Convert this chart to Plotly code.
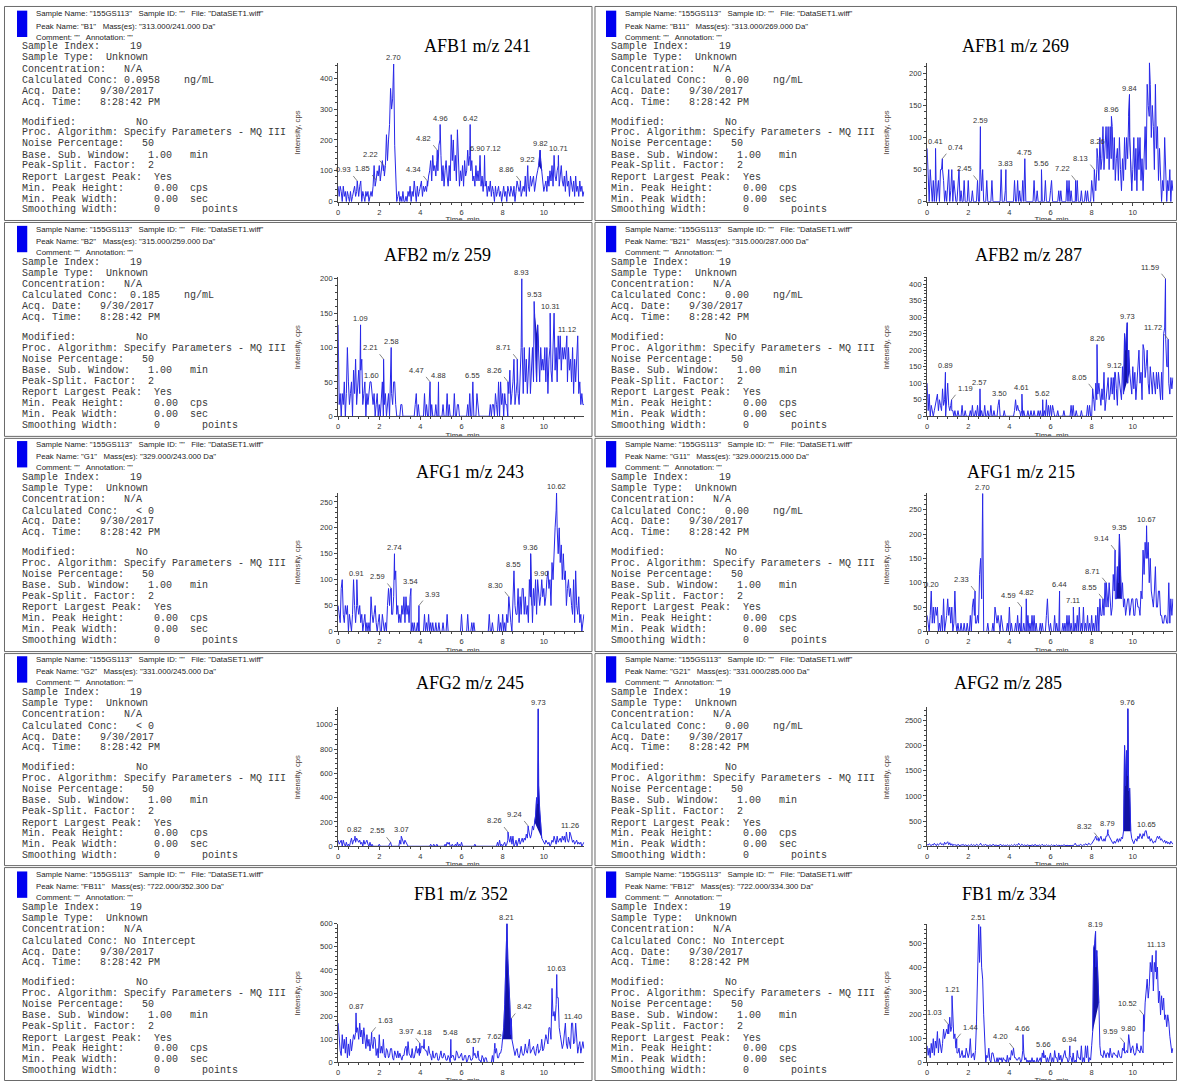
import plotly.graph_objects as go

W, H = 1178, 1086

# Chromatograms are sampled every 0.05 min over 0 - 11.95 min
times = [round(i * 0.05, 2) for i in range(240)]

# ---------------- AFB1 m/z 241 (B1) ----------------
afb1_241 = [
    50, 17, 50, 33, 0, 50, 17, 33, 0, 33, 17, 0, 33, 0, 17, 33, 50, 17, 33, 50,
    17, 50, 67, 0, 33, 17, 0, 33, 17, 33, 0, 17, 33, 17, 50, 117, 50, 70, 100, 83,
    117, 67, 100, 133, 100, 83, 117, 217, 133, 200, 250, 367, 300, 333, 446, 183, 50, 0, 17, 33,
    0, 17, 0, 33, 0, 0, 17, 0, 33, 17, 50, 0, 33, 17, 67, 33, 0, 50, 17, 33,
    50, 67, 17, 50, 33, 50, 33, 50, 83, 100, 133, 67, 150, 100, 117, 83, 133, 100, 183, 200,
    150, 67, 117, 50, 100, 133, 83, 50, 117, 67, 217, 133, 200, 100, 150, 67, 233, 117, 50, 100,
    67, 117, 50, 133, 83, 100, 167, 117, 150, 100, 133, 67, 83, 50, 117, 67, 100, 67, 150, 50,
    83, 33, 83, 50, 67, 17, 50, 33, 67, 17, 50, 33, 0, 50, 17, 33, 50, 17, 33, 0,
    33, 50, 17, 33, 0, 50, 33, 17, 50, 33, 17, 50, 0, 33, 67, 50, 33, 50, 17, 33,
    50, 33, 83, 17, 67, 50, 33, 83, 50, 67, 83, 33, 67, 83, 100, 117, 150, 133, 100, 83,
    33, 50, 67, 33, 83, 50, 100, 67, 117, 50, 150, 83, 67, 100, 117, 50, 83, 117, 67, 50,
    83, 33, 100, 50, 67, 17, 83, 50, 33, 67, 17, 83, 33, 50, 17, 67, 33, 50, 17, 33,
]
afb1_241_pk_t = [0.93, 1.85, 2.22, 2.70, 4.34, 4.82, 4.96, 6.42, 6.90, 7.12, 8.86, 9.22, 9.82, 10.71]
afb1_241_pk_h = [67, 70, 117, 446, 67, 167, 250, 250, 150, 150, 67, 117, 167, 150]
afb1_241_side = ['L', 'L', 'L', '', 'L', 'L', '', '', '<', '>', 'L', '', '', '']

# ---------------- AFB1 m/z 269 (B11) ----------------
afb1_269 = [
    83, 33, 0, 50, 17, 0, 33, 0, 33, 0, 17, 33, 0, 50, 50, 50, 33, 0, 17, 0,
    33, 50, 0, 17, 50, 0, 33, 17, 0, 0, 33, 50, 0, 17, 0, 0, 33, 0, 0, 0,
    33, 0, 0, 0, 17, 0, 0, 0, 0, 0, 0, 0, 50, 17, 50, 0, 0, 0, 33, 0,
    0, 0, 0, 33, 0, 0, 0, 0, 0, 0, 0, 0, 50, 0, 0, 0, 17, 0, 0, 0,
    0, 0, 0, 0, 0, 33, 0, 0, 33, 0, 17, 0, 0, 33, 0, 0, 0, 0, 0, 0,
    0, 0, 0, 0, 33, 0, 0, 17, 0, 0, 0, 0, 0, 0, 0, 33, 0, 0, 0, 0,
    17, 33, 0, 0, 0, 0, 0, 0, 17, 0, 17, 0, 0, 0, 0, 0, 33, 0, 33, 0,
    17, 0, 0, 0, 0, 0, 33, 0, 0, 0, 17, 0, 0, 0, 17, 0, 17, 0, 0, 0,
    33, 17, 0, 33, 17, 50, 67, 33, 100, 50, 67, 117, 50, 100, 117, 67, 117, 50, 117, 67,
    117, 50, 100, 33, 67, 83, 33, 100, 50, 17, 67, 33, 100, 50, 100, 67, 133, 100, 50, 17,
    50, 100, 33, 83, 17, 100, 50, 100, 33, 67, 17, 83, 117, 50, 183, 150, 133, 183, 100, 150,
    117, 50, 183, 83, 117, 33, 83, 50, 0, 33, 17, 100, 50, 0, 33, 17, 50, 0, 33, 17,
]
afb1_269_pk_t = [0.41, 0.74, 2.45, 2.59, 3.83, 4.75, 5.56, 7.22, 8.13, 8.26, 8.96, 9.84, 10.81]
afb1_269_pk_h = [83, 67, 33, 117, 50, 67, 50, 33, 50, 83, 133, 167, 217]
afb1_269_side = ['', 'R', 'L', '', '', '', '', 'L', 'L', '', '', '', '']

# ---------------- AFB2 m/z 259 (B2) ----------------
afb2_259 = [
    133, 17, 33, 0, 33, 17, 50, 0, 33, 100, 50, 17, 33, 50, 0, 67, 33, 83, 17, 50,
    67, 33, 67, 83, 17, 33, 50, 0, 33, 17, 33, 50, 0, 33, 17, 33, 0, 17, 33, 0,
    17, 0, 33, 50, 0, 17, 33, 0, 17, 33, 0, 50, 33, 17, 50, 50, 17, 0, 0, 0,
    0, 17, 17, 0, 0, 0, 0, 0, 0, 0, 0, 0, 0, 0, 0, 17, 33, 0, 17, 0,
    0, 0, 0, 0, 33, 0, 17, 0, 0, 33, 0, 17, 0, 0, 0, 17, 0, 0, 0, 0,
    0, 0, 17, 0, 0, 0, 33, 0, 17, 0, 0, 0, 0, 33, 0, 0, 17, 17, 0, 0,
    0, 0, 0, 0, 0, 0, 17, 0, 33, 0, 0, 17, 0, 0, 0, 33, 17, 0, 0, 0,
    0, 0, 0, 0, 0, 0, 0, 0, 17, 0, 17, 17, 0, 33, 17, 0, 50, 0, 50, 17,
    33, 0, 33, 17, 17, 0, 33, 67, 17, 33, 50, 83, 17, 33, 50, 33, 17, 50, 100, 100,
    33, 100, 50, 83, 33, 67, 100, 33, 83, 100, 50, 150, 100, 50, 133, 100, 50, 100, 67, 83,
    67, 100, 50, 100, 33, 83, 100, 67, 50, 100, 150, 67, 100, 50, 117, 83, 117, 67, 100, 83,
    100, 83, 117, 50, 100, 67, 83, 50, 100, 33, 83, 50, 100, 117, 33, 50, 17, 33, 17, 17,
]
afb2_259_pk_t = [1.09, 1.60, 2.21, 2.58, 4.47, 4.88, 6.55, 8.26, 8.71, 8.93, 9.53, 10.31, 11.12]
afb2_259_pk_h = [133, 50, 83, 100, 50, 50, 50, 50, 83, 200, 167, 150, 117]
afb2_259_side = ['', '', 'L', '', 'L', '', '', 'L', 'L', '', '', '', '']

# ---------------- AFB2 m/z 287 (B21) ----------------
afb2_287 = [
    100, 17, 67, 0, 33, 17, 0, 17, 33, 50, 67, 17, 50, 33, 17, 83, 33, 50, 0, 50,
    100, 33, 17, 33, 17, 17, 0, 17, 0, 0, 17, 0, 0, 0, 33, 0, 0, 17, 0, 0,
    0, 0, 17, 0, 33, 0, 0, 17, 0, 33, 0, 0, 0, 17, 0, 0, 33, 0, 0, 17,
    0, 0, 33, 0, 0, 17, 0, 0, 0, 33, 0, 0, 0, 0, 0, 17, 0, 0, 0, 0,
    0, 0, 0, 0, 0, 17, 50, 17, 33, 17, 17, 0, 17, 0, 17, 0, 0, 0, 17, 0,
    0, 17, 0, 0, 17, 0, 0, 0, 17, 0, 17, 0, 0, 0, 17, 0, 50, 0, 33, 0,
    33, 0, 33, 17, 0, 0, 0, 17, 0, 0, 0, 0, 0, 17, 0, 0, 0, 0, 0, 0,
    33, 0, 33, 0, 0, 17, 0, 0, 0, 0, 17, 0, 0, 0, 0, 0, 33, 0, 33, 0,
    0, 83, 50, 17, 100, 50, 67, 100, 50, 33, 83, 50, 133, 17, 50, 83, 117, 50, 67, 117,
    67, 117, 50, 133, 83, 33, 133, 100, 67, 50, 150, 67, 250, 200, 250, 100, 200, 133, 100, 67,
    150, 83, 133, 50, 100, 167, 200, 100, 133, 50, 217, 200, 117, 150, 200, 100, 67, 150, 117, 67,
    133, 100, 67, 133, 83, 133, 100, 50, 133, 50, 250, 267, 233, 150, 150, 100, 67, 117, 83, 117,
]
afb2_287_pk_t = [0.89, 1.19, 2.57, 3.50, 4.61, 5.62, 8.05, 8.26, 9.12, 9.73, 11.59, 11.72]
afb2_287_pk_h = [133, 50, 83, 50, 67, 50, 83, 217, 133, 283, 416, 233]
afb2_287_side = ['', 'R', '', '', '', '', 'L', '', '', '', 'L', 'L']

# ---------------- AFG1 m/z 243 (G1) ----------------
afg1_243 = [
    50, 33, 17, 83, 100, 33, 17, 50, 33, 50, 0, 33, 17, 0, 33, 100, 50, 17, 50, 50,
    33, 50, 17, 33, 0, 17, 33, 0, 17, 0, 17, 0, 67, 33, 17, 33, 50, 17, 0, 17,
    33, 0, 0, 33, 17, 0, 17, 0, 50, 83, 50, 83, 33, 33, 67, 100, 117, 33, 50, 17,
    33, 17, 50, 33, 67, 17, 67, 33, 50, 17, 67, 0, 17, 0, 17, 0, 0, 17, 0, 0,
    0, 0, 0, 0, 33, 0, 17, 0, 33, 0, 17, 0, 17, 0, 0, 17, 0, 0, 17, 0,
    0, 0, 17, 0, 0, 0, 33, 0, 0, 0, 0, 0, 0, 0, 0, 0, 0, 0, 0, 0,
    33, 0, 0, 0, 0, 0, 33, 0, 0, 0, 17, 0, 17, 0, 0, 0, 0, 0, 0, 0,
    0, 0, 0, 0, 0, 0, 0, 33, 0, 0, 17, 0, 0, 0, 0, 0, 33, 0, 17, 0,
    33, 0, 17, 0, 33, 17, 33, 33, 17, 0, 50, 117, 50, 33, 33, 83, 17, 67, 33, 83,
    83, 33, 67, 33, 50, 17, 100, 67, 50, 17, 83, 50, 100, 33, 100, 67, 50, 67, 100, 67,
    83, 50, 67, 100, 117, 83, 100, 50, 133, 100, 167, 200, 233, 200, 150, 200, 133, 167, 100, 150,
    100, 117, 50, 83, 100, 67, 83, 50, 33, 100, 17, 117, 50, 33, 67, 17, 33, 0, 17, 33,
]
afg1_243_pk_t = [0.91, 2.59, 2.74, 3.54, 3.93, 8.30, 8.55, 9.36, 9.90, 10.62]
afg1_243_pk_h = [100, 83, 150, 83, 50, 67, 117, 150, 100, 267]
afg1_243_side = ['', 'L', '', '', 'R', 'L', '', '', '', '']

# ---------------- AFG1 m/z 215 (G11) ----------------
afg1_215 = [
    33, 17, 0, 33, 83, 17, 50, 17, 50, 33, 50, 0, 17, 0, 33, 0, 67, 0, 17, 33,
    67, 33, 50, 17, 50, 0, 17, 83, 17, 0, 17, 0, 0, 17, 0, 0, 17, 0, 0, 17,
    0, 0, 33, 0, 50, 67, 33, 17, 17, 33, 17, 117, 150, 67, 283, 0, 0, 0, 0, 17,
    0, 0, 0, 0, 17, 0, 50, 33, 17, 33, 17, 0, 33, 17, 0, 0, 0, 0, 17, 0,
    50, 0, 17, 0, 0, 0, 17, 0, 33, 0, 17, 0, 0, 0, 17, 0, 0, 0, 33, 0,
    17, 0, 33, 0, 33, 0, 17, 0, 0, 0, 17, 0, 17, 0, 0, 0, 33, 67, 17, 0,
    17, 0, 0, 0, 33, 0, 17, 0, 0, 0, 0, 0, 17, 0, 17, 0, 33, 0, 33, 0,
    17, 0, 0, 0, 17, 0, 33, 0, 50, 0, 17, 0, 50, 0, 17, 0, 33, 0, 17, 0,
    33, 0, 17, 0, 33, 0, 50, 0, 67, 33, 33, 67, 33, 100, 50, 83, 50, 100, 67, 33,
    50, 117, 83, 67, 67, 133, 100, 200, 117, 67, 100, 50, 67, 33, 50, 67, 67, 33, 50, 67,
    67, 33, 33, 67, 67, 50, 50, 33, 83, 67, 167, 117, 183, 150, 150, 183, 100, 150, 83, 67,
    50, 83, 133, 50, 50, 83, 83, 33, 33, 17, 17, 33, 33, 17, 17, 100, 17, 67, 33, 67,
]
afg1_215_pk_t = [0.20, 2.33, 2.70, 4.59, 4.82, 6.44, 7.11, 8.55, 8.71, 9.14, 9.35, 10.67]
afg1_215_pk_h = [83, 83, 283, 50, 67, 83, 50, 67, 100, 167, 200, 217]
afg1_215_side = ['', 'L', '', 'L', '', '', '', 'L', 'L', 'L', '', '']

# ---------------- AFG2 m/z 245 (G2) ----------------
afg2_245 = [
    50, 17, 33, 50, 0, 50, 17, 0, 33, 0, 17, 0, 33, 67, 17, 50, 50, 33, 67, 50,
    33, 50, 17, 33, 0, 50, 17, 33, 50, 17, 0, 33, 0, 17, 0, 0, 0, 0, 0, 0,
    17, 0, 0, 0, 0, 0, 0, 0, 0, 0, 17, 0, 0, 0, 0, 0, 0, 0, 0, 0,
    50, 17, 67, 33, 17, 50, 33, 17, 0, 0, 0, 0, 0, 0, 0, 0, 0, 0, 0, 0,
    0, 0, 0, 0, 0, 0, 0, 0, 0, 0, 17, 0, 0, 17, 0, 0, 17, 0, 0, 0,
    0, 0, 0, 0, 17, 0, 33, 17, 33, 0, 0, 17, 0, 0, 17, 0, 33, 0, 17, 0,
    33, 0, 0, 0, 0, 0, 0, 0, 0, 0, 0, 0, 0, 17, 0, 0, 0, 0, 0, 0,
    0, 0, 0, 0, 0, 0, 0, 0, 0, 0, 0, 0, 0, 0, 0, 33, 0, 50, 0, 17,
    0, 17, 33, 0, 17, 50, 67, 33, 83, 17, 83, 0, 17, 50, 0, 33, 67, 17, 50, 67,
    33, 67, 50, 100, 67, 150, 100, 67, 100, 167, 133, 200, 250, 400, 350, 500, 300, 200, 67, 50,
    33, 17, 50, 33, 17, 33, 0, 17, 50, 33, 83, 50, 17, 83, 33, 50, 67, 33, 83, 50,
    83, 33, 117, 50, 33, 67, 100, 50, 33, 50, 17, 33, 50, 17, 33, 17, 33, 0, 17, 33,
]
afg2_245_pk_t = [0.82, 2.55, 3.07, 8.26, 9.24, 9.73, 11.26]
afg2_245_pk_h = [83, 33, 83, 117, 167, 1130, 117]
afg2_245_side = ['', 'L', '', 'L', 'L', '', '']

# ---------------- AFG2 m/z 285 (G21) ----------------
afg2_285 = [
    40, 20, 50, 30, 10, 40, 20, 60, 30, 10, 50, 20, 40, 70, 30, 50, 20, 80, 40, 60,
    90, 30, 70, 20, 50, 10, 40, 20, 30, 10, 40, 20, 10, 30, 20, 40, 10, 30, 20, 10,
    30, 10, 20, 40, 10, 30, 20, 10, 40, 20, 10, 30, 60, 20, 10, 30, 20, 40, 10, 20,
    10, 30, 20, 10, 40, 20, 10, 30, 10, 20, 10, 40, 20, 10, 30, 10, 20, 10, 30, 10,
    20, 10, 30, 10, 20, 40, 10, 30, 20, 60, 30, 10, 40, 20, 10, 30, 10, 20, 30, 10,
    20, 10, 30, 20, 10, 40, 10, 20, 10, 30, 10, 20, 40, 10, 20, 10, 30, 10, 20, 10,
    10, 30, 10, 20, 10, 10, 30, 10, 20, 10, 10, 20, 10, 30, 10, 10, 20, 10, 10, 20,
    10, 20, 10, 30, 60, 20, 10, 20, 10, 40, 20, 10, 30, 20, 50, 30, 20, 60, 40, 30,
    50, 80, 100, 150, 200, 120, 130, 100, 150, 200, 120, 100, 150, 100, 200, 200, 250, 200, 150, 100,
    80, 50, 100, 60, 100, 150, 80, 150, 100, 180, 150, 300, 2000, 1200, 1900, 1400, 1100, 1150, 300, 150,
    100, 50, 120, 150, 100, 200, 150, 250, 200, 150, 250, 200, 300, 250, 200, 150, 200, 100, 150, 80,
    60, 100, 80, 150, 200, 150, 200, 120, 150, 100, 80, 120, 60, 100, 50, 80, 40, 100, 60, 40,
]
afg2_285_pk_t = [8.32, 8.79, 9.76, 10.65]
afg2_285_pk_h = [170, 330, 2730, 310]
afg2_285_side = ['L', '', '', '']

# ---------------- FB1 m/z 352 (FB11) ----------------
fb1_352 = [
    170, 100, 50, 30, 120, 60, 100, 40, 110, 20, 80, 30, 100, 50, 80, 120, 100, 130, 130, 150,
    100, 170, 110, 140, 80, 150, 100, 60, 120, 70, 100, 50, 90, 80, 60, 110, 100, 30, 60, 20,
    120, 40, 70, 40, 100, 30, 20, 60, 50, 20, 30, 60, 60, 20, 10, 50, 30, 20, 50, 20,
    40, 20, 10, 30, 30, 60, 70, 30, 90, 40, 30, 20, 60, 20, 20, 50, 70, 40, 60, 30,
    40, 70, 70, 60, 60, 50, 50, 30, 70, 40, 30, 10, 50, 20, 20, 40, 40, 10, 10, 30,
    50, 20, 20, 40, 30, 10, 10, 30, 20, 0, 20, 30, 30, 10, 10, 50, 40, 20, 20, 30,
    40, 10, 10, 30, 30, 0, 10, 30, 30, 10, 10, 20, 30, 40, 20, 20, 50, 10, 10, 0,
    30, 20, 0, 20, 20, 0, 0, 0, 0, 0, 30, 0, 60, 40, 60, 20, 20, 40, 40, 60,
    100, 150, 250, 400, 480, 450, 300, 250, 120, 100, 70, 50, 30, 50, 60, 30, 20, 40, 70, 40,
    30, 40, 80, 50, 40, 70, 100, 40, 50, 60, 70, 40, 30, 60, 80, 40, 50, 60, 100, 50,
    60, 90, 120, 100, 80, 150, 150, 100, 320, 200, 220, 180, 250, 280, 280, 150, 120, 80, 60, 80,
    130, 170, 80, 60, 110, 90, 60, 170, 120, 80, 90, 170, 90, 40, 70, 90, 40, 60, 90, 60,
]
fb1_352_pk_t = [0.87, 1.63, 3.97, 4.18, 5.48, 6.57, 7.62, 8.21, 8.42, 10.63, 11.40]
fb1_352_pk_h = [214, 130, 83, 100, 100, 67, 83, 600, 190, 380, 170]
fb1_352_side = ['', 'R', 'L', '', '', '', '', '', 'R', '', '']

# ---------------- FB1 m/z 334 (FB12) ----------------
fb1_334 = [
    70, 30, 60, 20, 80, 40, 100, 30, 90, 60, 130, 40, 100, 70, 40, 80, 140, 100, 130, 140,
    120, 120, 190, 130, 150, 150, 100, 120, 60, 40, 40, 60, 20, 30, 50, 20, 30, 20, 60, 30,
    20, 40, 100, 20, 30, 40, 10, 50, 170, 400, 500, 420, 570, 400, 350, 200, 60, 0, 30, 20,
    60, 10, 0, 40, 40, 20, 0, 0, 20, 0, 20, 10, 20, 0, 20, 10, 10, 0, 30, 0,
    20, 10, 50, 30, 20, 20, 20, 10, 10, 20, 20, 0, 10, 50, 40, 10, 20, 0, 10, 0,
    10, 0, 20, 0, 10, 0, 0, 20, 0, 10, 20, 0, 40, 20, 20, 30, 0, 20, 0, 20,
    40, 0, 20, 0, 50, 20, 20, 0, 40, 10, 30, 0, 20, 40, 50, 20, 20, 0, 10, 30,
    20, 0, 40, 0, 10, 0, 50, 20, 20, 10, 70, 0, 20, 0, 70, 20, 70, 0, 20, 10,
    70, 130, 480, 500, 400, 470, 380, 250, 70, 30, 30, 20, 50, 30, 20, 40, 40, 20, 60, 30,
    20, 40, 40, 30, 30, 20, 50, 30, 20, 20, 60, 50, 40, 40, 50, 40, 117, 70, 40, 60,
    70, 40, 30, 40, 80, 50, 50, 40, 70, 50, 40, 130, 250, 300, 350, 270, 320, 420, 380, 450,
    300, 420, 380, 350, 400, 250, 300, 200, 280, 220, 270, 180, 200, 150, 200, 170, 110, 80, 40, 60,
]
fb1_334_pk_t = [1.03, 1.21, 1.44, 2.51, 4.20, 4.66, 5.66, 6.94, 8.19, 9.59, 9.80, 10.52, 11.13]
fb1_334_pk_h = [160, 280, 100, 580, 60, 117, 50, 70, 550, 83, 117, 200, 470]
fb1_334_side = ['L', '', 'R', '', 'L', '', '', '', '', 'L', '', 'L', '']

# Panel descriptions, in reading order (left, right per row)
panels = [
    dict(title='AFB1 m/z 241', peak='B1', mass='313.000/241.000', conc=(18, '0.0958', True),
         y=afb1_241, pk_t=afb1_241_pk_t, pk_h=afb1_241_pk_h, side=afb1_241_side,
         ymax=450, dtick=100, fill=(9.72, 9.90), title_x=476.7),
    dict(title='AFB1 m/z 269', peak='B11', mass='313.000/269.000', conc=(20, '0.00', True),
         y=afb1_269, pk_t=afb1_269_pk_t, pk_h=afb1_269_pk_h, side=afb1_269_side,
         ymax=216.5, dtick=50, fill=(9.78, 9.95), title_x=1015.5),
    dict(title='AFB2 m/z 259', peak='B2', mass='315.000/259.000', conc=(19, '0.185', True),
         y=afb2_259, pk_t=afb2_259_pk_t, pk_h=afb2_259_pk_h, side=afb2_259_side,
         ymax=202, dtick=50, fill=(9.55, 9.75), title_x=435.8),
    dict(title='AFB2 m/z 287', peak='B21', mass='315.000/287.000', conc=(20, '0.00', True),
         y=afb2_287, pk_t=afb2_287_pk_t, pk_h=afb2_287_pk_h, side=afb2_287_side,
         ymax=420, dtick=50, fill=(9.55, 9.85), title_x=1028),
    dict(title='AFG1 m/z 243', peak='G1', mass='329.000/243.000', conc=(20, '< 0', False),
         y=afg1_243, pk_t=afg1_243_pk_t, pk_h=afg1_243_pk_h, side=afg1_243_side,
         ymax=268, dtick=50, fill=(9.30, 9.40), title_x=468.5),
    dict(title='AFG1 m/z 215', peak='G11', mass='329.000/215.000', conc=(20, '0.00', True),
         y=afg1_215, pk_t=afg1_215_pk_t, pk_h=afg1_215_pk_h, side=afg1_215_side,
         ymax=285, dtick=50, fill=(9.20, 9.45), title_x=1021),
    dict(title='AFG2 m/z 245', peak='G2', mass='331.000/245.000', conc=(20, '< 0', False),
         y=afg2_245, pk_t=afg2_245_pk_t, pk_h=afg2_245_pk_h, side=afg2_245_side,
         ymax=1142, dtick=200, fill=(9.55, 9.90), title_x=468.5),
    dict(title='AFG2 m/z 285', peak='G21', mass='331.000/285.000', conc=(20, '0.00', True),
         y=afg2_285, pk_t=afg2_285_pk_t, pk_h=afg2_285_pk_h, side=afg2_285_side,
         ymax=2756, dtick=500, fill=(9.55, 9.90), title_x=1007.5),
    dict(title='FB1 m/z 352', peak='FB11', mass='722.000/352.300', conc=(17, 'No Intercept', False),
         y=fb1_352, pk_t=fb1_352_pk_t, pk_h=fb1_352_pk_h, side=fb1_352_side,
         ymax=600, dtick=100, fill=(8.00, 8.45), title_x=459.5),
    dict(title='FB1 m/z 334', peak='FB12', mass='722.000/334.300', conc=(17, 'No Intercept', False),
         y=fb1_334, pk_t=fb1_334_pk_t, pk_h=fb1_334_pk_h, side=fb1_334_side,
         ymax=583, dtick=100, fill=(8.05, 8.38), title_x=1008.5),
]

MONO = 'Liberation Mono, Courier New, monospace'
SANS = 'Liberation Sans, Arial, sans-serif'
SERIF = 'Liberation Serif, Times New Roman, serif'
BLUE = 'rgb(40,40,232)'
DARK_BLUE = 'rgb(18,18,165)'
AXIS = '#454545'

ROW_OFF = [0, 217, 434, 651, 868]          # top of each panel row (px)
PLOT_Y0 = [199.3, 415.7, 632.7, 849.3, 1067.3]  # y = 0 baseline of each chromatogram (px)
PLOT_H = 140
TITLE_Y = [42.7, 253.3, 471.7, 685.0, 897.7]
CUT = [218.3, 436.0, 653.0, 868.8, 1086.0]  # lower border of each row (px)
LINE_Y = [43.3, 54.3, 65.7, 77.3, 88.3, 99.0, 119.0, 130.0, 141.0,
          152.3, 163.3, 175.0, 185.7, 196.7, 207.7]


def px(x):
    return x / W


def py(y):
    return 1 - y / H


def cols(items):
    s = ''
    for col, txt in items:
        s = s.ljust(col) if len(s) < col else s + ' '
        s += txt
    return s.replace(' ', '\u00a0')


def info_rows(p):
    col, val, unit = p['conc']
    conc = [(0, 'Calculated Conc:'), (col, val)] + ([(28, 'ng/mL')] if unit else [])
    return [
        cols([(0, 'Sample Index:'), (19, '19')]),
        cols([(0, 'Sample Type:'), (15, 'Unknown')]),
        cols([(0, 'Concentration:'), (18, 'N/A')]),
        cols(conc),
        cols([(0, 'Acq. Date:'), (14, '9/30/2017')]),
        cols([(0, 'Acq. Time:'), (14, '8:28:42 PM')]),
        cols([(0, 'Modified:'), (20, 'No')]),
        cols([(0, 'Proc. Algorithm: Specify Parameters - MQ III')]),
        cols([(0, 'Noise Percentage:'), (21, '50')]),
        cols([(0, 'Base. Sub. Window:'), (22, '1.00'), (29, 'min')]),
        cols([(0, 'Peak-Split. Factor:'), (22, '2')]),
        cols([(0, 'Report Largest Peak:'), (23, 'Yes')]),
        cols([(0, 'Min. Peak Height:'), (23, '0.00'), (29, 'cps')]),
        cols([(0, 'Min. Peak Width:'), (23, '0.00'), (29, 'sec')]),
        cols([(0, 'Smoothing Width:'), (23, '0'), (31, 'points')]),
    ]


def with_peaks(series, pk_t, pk_h):
    pts = dict(zip(times, series))
    for t, h in zip(pk_t, pk_h):
        pts[t] = h
    xs = sorted(pts)
    return xs, [pts[t] for t in xs]


traces = []
annotations = []
shapes = []
layout = dict(width=W, height=H, margin=dict(l=0, r=0, t=0, b=0),
              paper_bgcolor='white', plot_bgcolor='white', showlegend=False,
              hovermode=False)

for k, p in enumerate(panels):
    r, c = divmod(k, 2)
    dx = 590 * c
    oy = ROW_OFF[r]
    n = k + 1
    sx = '' if n == 1 else str(n)
    xr, yr = 'x' + sx, 'y' + sx
    left, right = 336.7 + dx, 583.3 + dx
    y0 = PLOT_Y0[r]
    top = y0 - PLOT_H

    layout['xaxis' + sx] = dict(
        domain=[px(left), px(right)], range=[0, 11.97], anchor=yr,
        showline=True, linecolor=AXIS, linewidth=1, showgrid=False, zeroline=False,
        ticks='outside', ticklen=3, tickwidth=1, tickcolor=AXIS, tick0=0, dtick=2,
        tickfont=dict(family=SANS, size=7.5, color='#333'),
        minor=dict(ticks='outside', ticklen=2, dtick=0.5, tickcolor=AXIS, showgrid=False),
        fixedrange=True)
    layout['yaxis' + sx] = dict(
        domain=[py(y0), py(top)], range=[0, p['ymax']], anchor=xr,
        showline=True, linecolor=AXIS, linewidth=1, showgrid=False, zeroline=False,
        ticks='outside', ticklen=3, tickwidth=1, tickcolor=AXIS, tick0=0, dtick=p['dtick'],
        tickfont=dict(family=SANS, size=7.5, color='#333'),
        minor=dict(ticks='outside', ticklen=2, dtick=p['dtick'] / 5, tickcolor=AXIS, showgrid=False),
        fixedrange=True)

    xs, ys = with_peaks(p['y'], p['pk_t'], p['pk_h'])
    a, b = p['fill']
    fx = [t for t in xs if a <= t <= b]
    fy = [v for t, v in zip(xs, ys) if a <= t <= b]
    traces.append(go.Scatter(x=fx, y=fy, mode='lines', fill='toself', fillcolor=DARK_BLUE,
                             line=dict(color=DARK_BLUE, width=0.6), xaxis=xr, yaxis=yr,
                             hoverinfo='skip'))
    traces.append(go.Scatter(x=xs, y=ys, mode='lines', line=dict(color=BLUE, width=1),
                             xaxis=xr, yaxis=yr, hoverinfo='skip'))

    # axis title on the time axis, cut by the panel border below it
    m = n + 10
    cut = CUT[r]
    layout['xaxis%d' % m] = dict(domain=[px(left), px(right)], range=[0, 11.97],
                                 visible=False, anchor='y%d' % m, fixedrange=True)
    layout['yaxis%d' % m] = dict(domain=[max(0.0, py(cut)), py(cut - 14)], range=[0, 14],
                                 visible=False, anchor='x%d' % m, fixedrange=True)
    centre = cut - 0.8 if r < 4 else 1086.5
    traces.append(go.Scatter(x=[6.05], y=[cut - centre], mode='text', text=['Time, min'],
                             textposition='middle center', cliponaxis=True,
                             textfont=dict(family=SANS, size=7.8, color='#333'),
                             xaxis='x%d' % m, yaxis='y%d' % m, hoverinfo='skip'))

    # peak retention-time labels
    for t, h, side in zip(p['pk_t'], p['pk_h'], p['side']):
        lbl = '%.2f' % t
        font = dict(family=SANS, size=7.5, color='#333')
        if side in ('', '<', '>'):
            anchor = {'': 'center', '<': 'right', '>': 'left'}[side]
            shift = {'': 0, '<': 7, '>': -1}[side]
            annotations.append(dict(x=t, y=h, xref=xr, yref=yr, text=lbl, showarrow=False,
                                    xanchor=anchor, xshift=shift, yanchor='bottom', font=font))
        else:
            sgn = -1 if side == 'L' else 1
            annotations.append(dict(x=t, y=h, xref=xr, yref=yr, text=lbl, showarrow=True,
                                    arrowhead=0, arrowwidth=0.7, arrowcolor='#555',
                                    ax=4 * sgn, ay=-5, standoff=0,
                                    xanchor='right' if side == 'L' else 'left',
                                    yanchor='bottom', font=font))

    # chart title and intensity axis title
    annotations.append(dict(x=px(p['title_x']), y=py(TITLE_Y[r]), xref='paper', yref='paper',
                            text=p['title'], showarrow=False, xanchor='center', yanchor='middle',
                            font=dict(family=SERIF, size=18, color='black')))
    annotations.append(dict(x=px(296 + dx), y=py(y0 - PLOT_H / 2), xref='paper', yref='paper',
                            text='Intensity, cps', showarrow=False, textangle=-90,
                            xanchor='center', yanchor='middle',
                            font=dict(family=SANS, size=7.7, color='#4a3a35')))

    # sample header
    header = [
        'Sample Name: "155GS113"   Sample ID: ""   File: "DataSET1.wiff"',
        'Peak Name: "%s"   Mass(es): "%s Da"' % (p['peak'], p['mass']),
        'Comment: ""   Annotation: ""',
    ]
    for yy, line in zip([10.0, 22.3, 33.3], header):
        annotations.append(dict(x=px(32 + dx), y=py(yy + oy), xref='paper', yref='paper',
                                text=line.replace('  ', '\u00a0\u00a0'), showarrow=False,
                                xanchor='left', yanchor='middle',
                                font=dict(family=SANS, size=7.8, color='#222')))
    shapes.append(dict(type='rect', xref='paper', yref='paper',
                       x0=px(15 + dx), x1=px(25.3 + dx), y0=py(6.7 + oy), y1=py(33.3 + oy),
                       fillcolor='#0000f0', line=dict(width=0)))

    # processing parameters block
    for yy, line in zip(LINE_Y, info_rows(p)):
        annotations.append(dict(x=px(12.5 + dx), y=py(yy + oy), xref='paper', yref='paper',
                                text=line, showarrow=False, xanchor='left', yanchor='middle',
                                font=dict(family=MONO, size=10, color='#383838')))

    # panel frame
    ptop = 2.5 if r == 0 else CUT[r - 1] + 2
    pbot = CUT[r] if r < 4 else 1085.5
    x0f, x1f = (2.5, 591.0) if c == 0 else (594.0, 1176.5)
    shapes.append(dict(type='rect', xref='paper', yref='paper',
                       x0=px(x0f), x1=px(x1f), y0=py(pbot), y1=py(ptop),
                       line=dict(color='#6a6a6a', width=1), fillcolor='rgba(0,0,0,0)'))

layout['annotations'] = annotations
layout['shapes'] = shapes

fig = go.Figure(data=traces, layout=layout)
fig.write_html('out.html')
